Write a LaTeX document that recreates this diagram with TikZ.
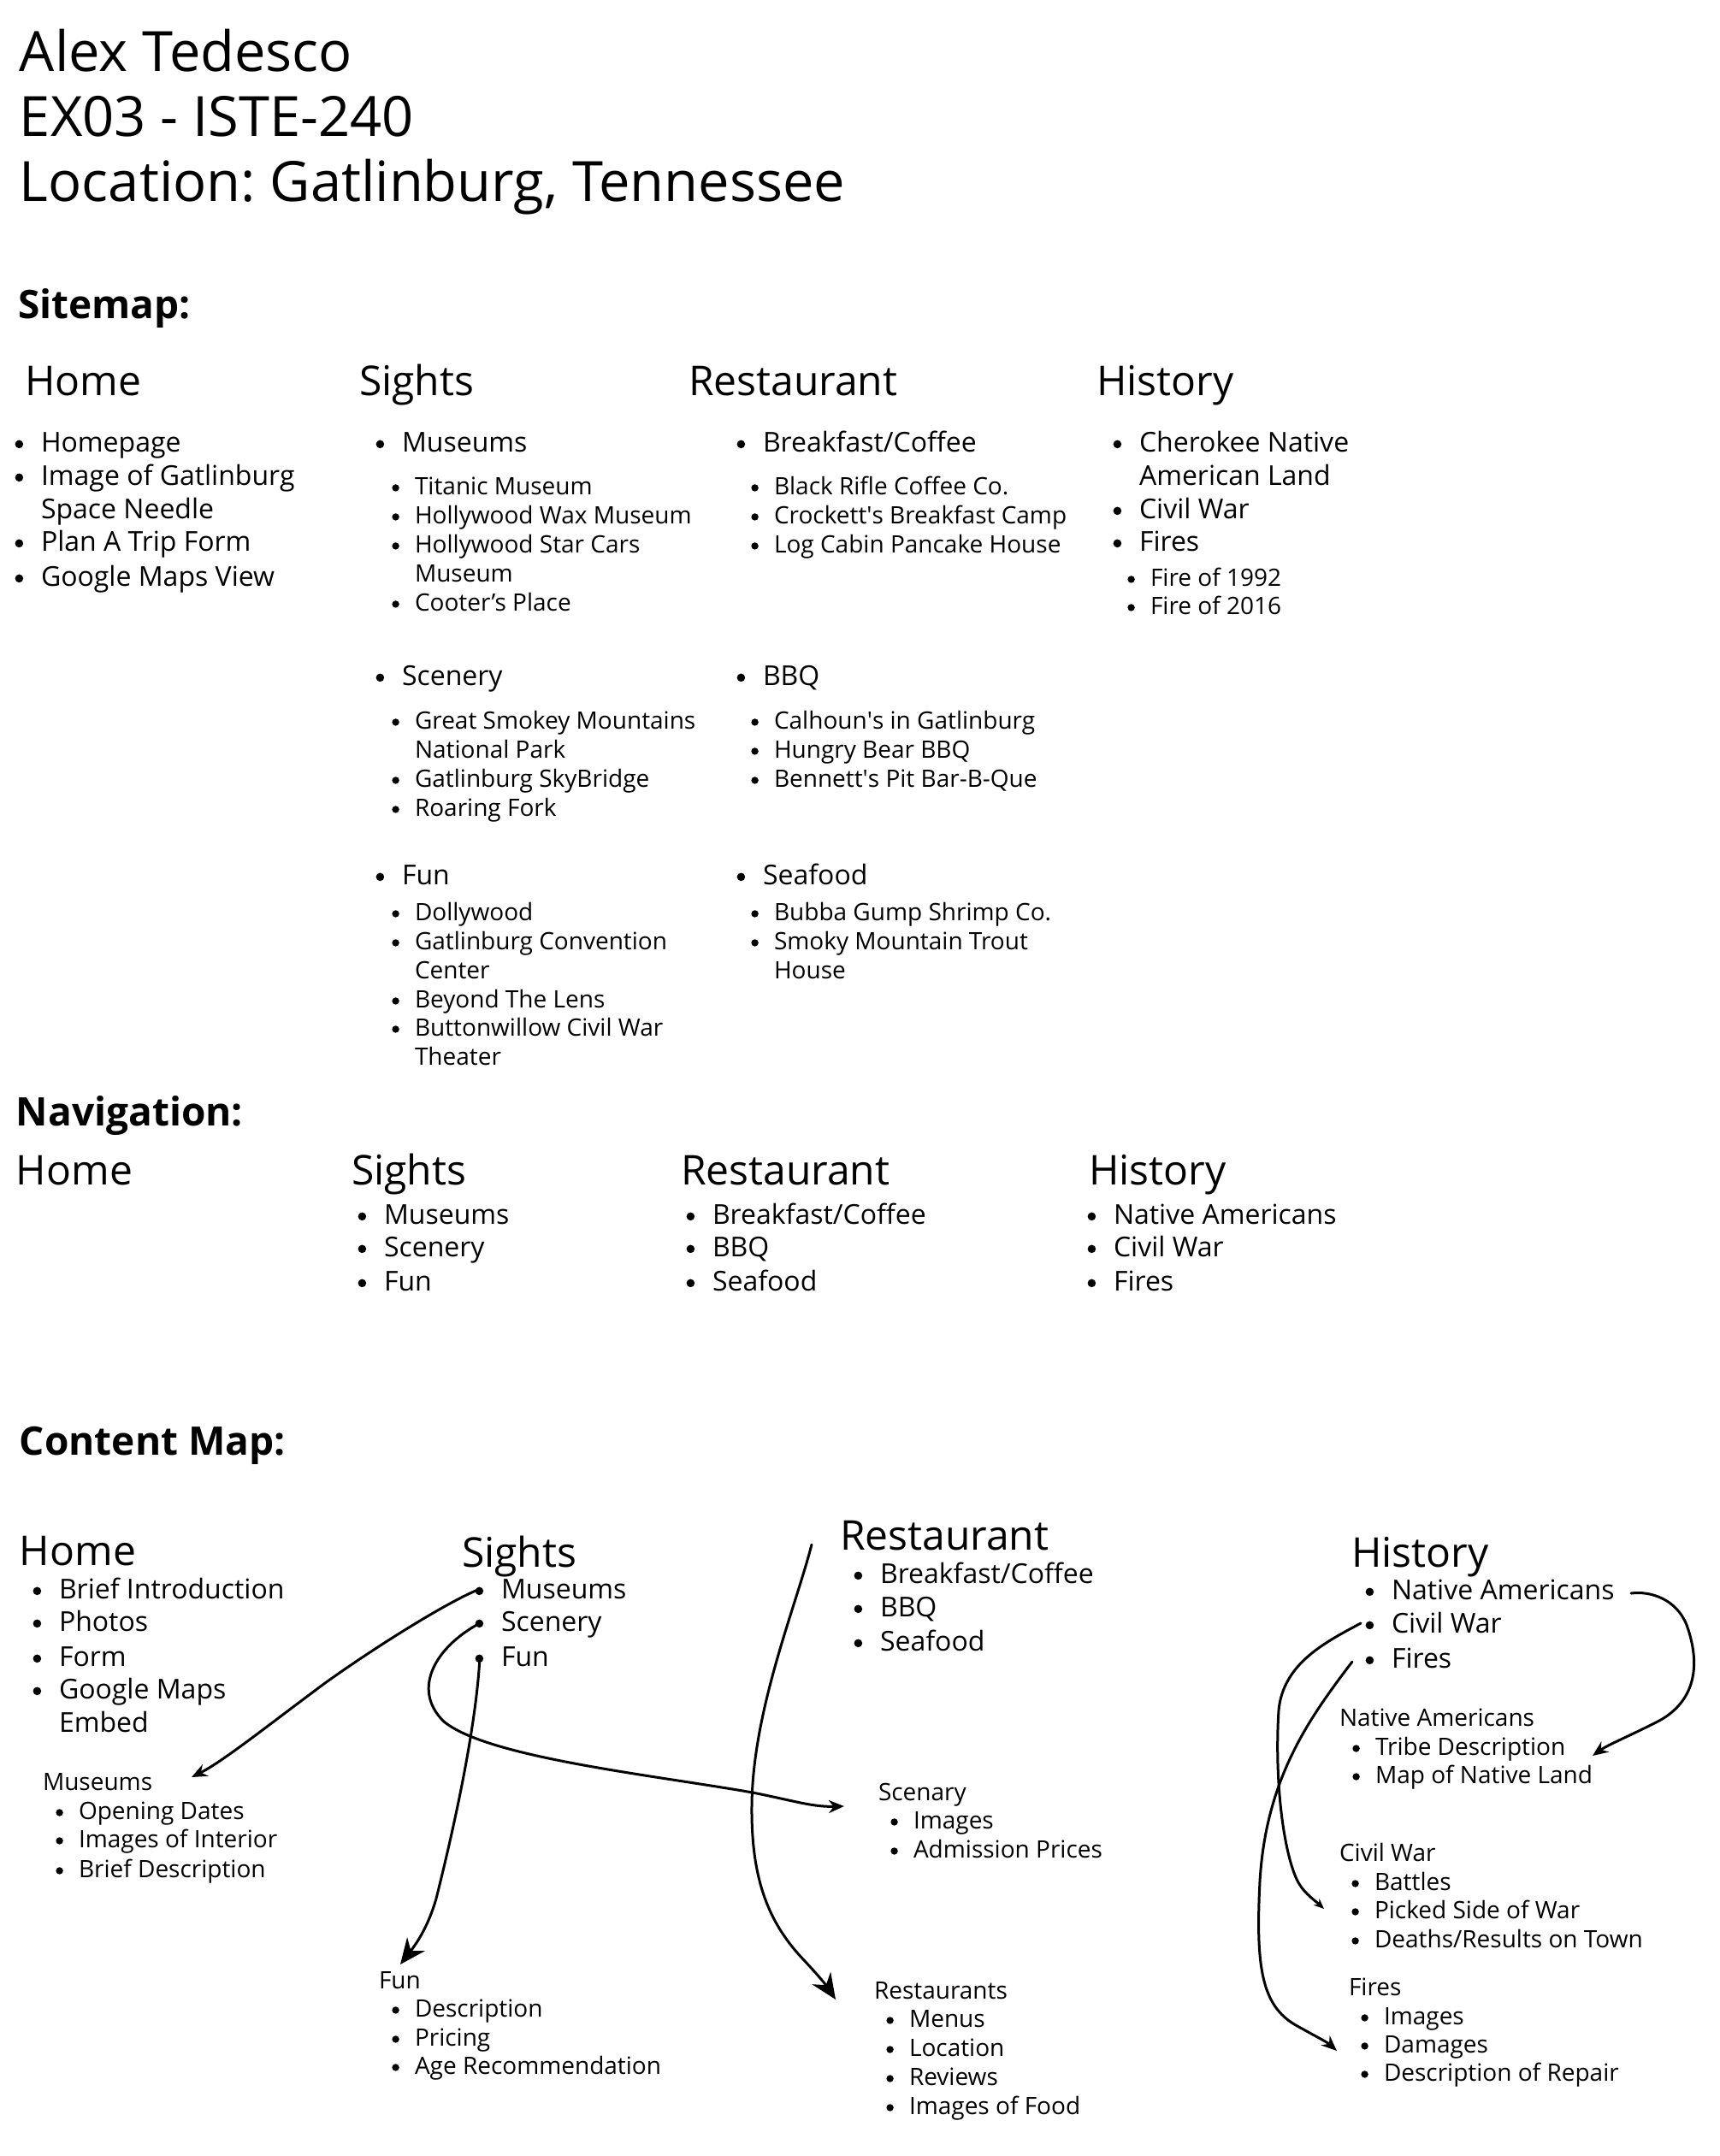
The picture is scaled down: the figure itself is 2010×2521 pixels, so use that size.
\documentclass[tikz,border=0pt]{standalone}
\usepackage{fontspec}
\setmainfont{Open Sans}
\usetikzlibrary{arrows.meta}
\frenchspacing
\newcommand\bu{\llap{\tikz[baseline=0pt]\fill (0pt,0.27em) circle[radius=0.15em];\hspace{0.65em}}}
\newcommand\ap{\textquotesingle}
\newcommand\li[5]{\node[#4] (#1) at (#2,#3) {#5};}
\begin{document}
\begin{tikzpicture}[x=1pt,y=-1pt,
  every node/.style={inner sep=0pt, outer sep=0pt, anchor=base west},
  ttl/.style={font=\fontsize{65}{78}\selectfont},
  sec/.style={font=\bfseries\fontsize{46}{55}\selectfont},
  hd/.style={font=\fontsize{48}{58}\selectfont},
  bg/.style={font=\fontsize{32}{39}\selectfont},
  sm/.style={font=\fontsize{28}{34}\selectfont},
  arr/.style={line width=3pt, line cap=round, -{Stealth[length=18pt,width=15pt]}},
  arrL/.style={line width=3pt, line cap=round, -{Stealth[length=30pt,width=26pt]}},
  arrT/.style={line width=3pt, line cap=round, -{Stealth[length=12pt,width=10pt]}}]
\fill[white] (0,0) rectangle (2010,2521);
\useasboundingbox (0,0) rectangle (2010,2521);

% title
\li{t1}{23}{84}{ttl}{Alex Tedesco}
\li{t2}{23}{159}{ttl}{EX03 - ISTE-240}
\li{t3}{23}{235}{ttl}{Location: Gatlinburg, Tennessee}

% ---------------- Sitemap
\li{secS}{21}{372}{sec}{Sitemap:}
\li{smHome}{29}{462}{hd}{Home}
\li{smSig}{420}{462}{hd}{Sights}
\li{smRes}{805}{462}{hd}{Restaurant}
\li{smHis}{1282}{462}{hd}{History}

\li{smH1}{48}{528}{bg}{\bu Homepage}
\li{smH2}{48}{567}{bg}{\bu Image of Gatlinburg}
\li{smH2b}{48}{606}{bg}{Space Needle}
\li{smH3}{48}{644}{bg}{\bu Plan A Trip Form}
\li{smH4}{48}{685}{bg}{\bu Google Maps View}

\li{smS1}{470}{528}{bg}{\bu Museums}
\li{smS1a}{485}{578}{sm}{\bu Titanic Museum}
\li{smS1b}{485}{612}{sm}{\bu Hollywood Wax Museum}
\li{smS1c}{485}{646}{sm}{\bu Hollywood Star Cars}
\li{smS1cb}{485}{680}{sm}{Museum}
\li{smS1d}{485}{714}{sm}{\bu Cooter’s Place}
\li{smS2}{470}{801}{bg}{\bu Scenery}
\li{smS2a}{485}{852}{sm}{\bu Great Smokey Mountains}
\li{smS2ab}{485}{886}{sm}{National Park}
\li{smS2b}{485}{920}{sm}{\bu Gatlinburg SkyBridge}
\li{smS2c}{485}{954}{sm}{\bu Roaring Fork}
\li{smS3}{470}{1034}{bg}{\bu Fun}
\li{smS3a}{485}{1076}{sm}{\bu Dollywood}
\li{smS3b}{485}{1110}{sm}{\bu Gatlinburg Convention}
\li{smS3bb}{485}{1144}{sm}{Center}
\li{smS3c}{485}{1178}{sm}{\bu Beyond The Lens}
\li{smS3d}{485}{1211}{sm}{\bu Buttonwillow Civil War}
\li{smS3db}{485}{1245}{sm}{Theater}

\li{smR1}{892}{528}{bg}{\bu Breakfast/Coffee}
\li{smR1a}{905}{578}{sm}{\bu Black Rifle Coffee Co.}
\li{smR1b}{905}{612}{sm}{\bu Crockett\ap s Breakfast Camp}
\li{smR1c}{905}{646}{sm}{\bu Log Cabin Pancake House}
\li{smR2}{892}{801}{bg}{\bu BBQ}
\li{smR2a}{905}{852}{sm}{\bu Calhoun\ap s in Gatlinburg}
\li{smR2b}{905}{886}{sm}{\bu Hungry Bear BBQ}
\li{smR2c}{905}{920}{sm}{\bu Bennett\ap s Pit Bar-B-Que}
\li{smR3}{892}{1034}{bg}{\bu Seafood}
\li{smR3a}{905}{1076}{sm}{\bu Bubba Gump Shrimp Co.}
\li{smR3b}{905}{1110}{sm}{\bu Smoky Mountain Trout}
\li{smR3bb}{905}{1144}{sm}{House}

\li{smY1}{1332}{528}{bg}{\bu Cherokee Native}
\li{smY1b}{1332}{567}{bg}{American Land}
\li{smY2}{1332}{606}{bg}{\bu Civil War}
\li{smY3}{1332}{644}{bg}{\bu Fires}
\li{smY3a}{1345}{685}{sm}{\bu Fire of 1992}
\li{smY3b}{1345}{718}{sm}{\bu Fire of 2016}

% ---------------- Navigation
\li{secN}{19}{1316}{sec}{Navigation:}
\li{nvHome}{19}{1385}{hd}{Home}
\li{nvSig}{411}{1385}{hd}{Sights}
\li{nvRes}{796}{1385}{hd}{Restaurant}
\li{nvHis}{1273}{1385}{hd}{History}
\li{nvS1}{449}{1431}{bg}{\bu Museums}
\li{nvS2}{449}{1469}{bg}{\bu Scenery}
\li{nvS3}{449}{1509}{bg}{\bu Fun}
\li{nvR1}{833}{1431}{bg}{\bu Breakfast/Coffee}
\li{nvR2}{833}{1469}{bg}{\bu BBQ}
\li{nvR3}{833}{1509}{bg}{\bu Seafood}
\li{nvY1}{1302}{1431}{bg}{\bu Native Americans}
\li{nvY2}{1302}{1469}{bg}{\bu Civil War}
\li{nvY3}{1302}{1509}{bg}{\bu Fires}

% ---------------- Content map
\li{secC}{23}{1701}{sec}{Content Map:}
\li{cmHome}{23}{1830}{hd}{Home}
\li{cmSig}{540}{1832}{hd}{Sights}
\li{cmRes}{982}{1812}{hd}{Restaurant}
\li{cmHis}{1580}{1832}{hd}{History}

\li{cmH1}{69}{1869}{bg}{\bu Brief Introduction}
\li{cmH2}{69}{1907}{bg}{\bu Photos}
\li{cmH3}{69}{1948}{bg}{\bu Form}
\li{cmH4}{69}{1986}{bg}{\bu Google Maps}
\li{cmH4b}{69}{2025}{bg}{Embed}

\li{cmSMus}{586}{1869}{bg}{\bu Museums}
\li{cmSSce}{586}{1907}{bg}{\bu Scenery}
\li{cmSFun}{586}{1948}{bg}{\bu Fun}

\li{cmR1}{1029}{1851}{bg}{\bu Breakfast/Coffee}
\li{cmR2}{1029}{1890}{bg}{\bu BBQ}
\li{cmR3}{1029}{1930}{bg}{\bu Seafood}

\li{cmHNat}{1627}{1870}{bg}{\bu Native Americans}
\li{cmHCiv}{1627}{1909}{bg}{\bu Civil War}
\li{cmHFir}{1627}{1950}{bg}{\bu Fires}

% detail blocks
\li{mbMus}{50}{2093}{sm}{Museums}
\li{mbMus1}{92}{2127}{sm}{\bu Opening Dates}
\li{mbMus2}{92}{2160}{sm}{\bu Images of Interior}
\li{mbMus3}{92}{2195}{sm}{\bu Brief Description}

\li{mbFun}{443}{2325}{sm}{Fun}
\li{mbFun1}{485}{2358}{sm}{\bu Description}
\li{mbFun2}{485}{2392}{sm}{\bu Pricing}
\li{mbFun3}{485}{2425}{sm}{\bu Age Recommendation}

\li{mbSce}{1027}{2105}{sm}{Scenary}
\li{mbSce1}{1068}{2138}{sm}{\bu Images}
\li{mbSce2}{1068}{2172}{sm}{\bu Admission Prices}

\li{mbRes}{1022}{2337}{sm}{Restaurants}
\li{mbRes1}{1063}{2370}{sm}{\bu Menus}
\li{mbRes2}{1063}{2404}{sm}{\bu Location}
\li{mbRes3}{1063}{2438}{sm}{\bu Reviews}
\li{mbRes4}{1063}{2472}{sm}{\bu Images of Food}

\li{mbNat}{1566}{2018}{sm}{Native Americans}
\li{mbNat1}{1608}{2052}{sm}{\bu Tribe Description}
\li{mbNat2}{1608}{2085}{sm}{\bu Map of Native Land}

\li{mbCiv}{1566}{2176}{sm}{Civil War}
\li{mbCiv1}{1607}{2210}{sm}{\bu Battles}
\li{mbCiv2}{1607}{2243}{sm}{\bu Picked Side of War}
\li{mbCiv3}{1607}{2277}{sm}{\bu Deaths/Results on Town}

\li{mbFir}{1577}{2333}{sm}{Fires}
\li{mbFir1}{1618}{2367}{sm}{\bu Images}
\li{mbFir2}{1618}{2400}{sm}{\bu Damages}
\li{mbFir3}{1618}{2433}{sm}{\bu Description of Repair}

% connector ends
\coordinate (a1s) at ([xshift=-25pt,yshift=11pt]cmSMus.base west);
\coordinate (a1e) at ([xshift=174pt,yshift=15pt]mbMus.base west);
\coordinate (a2s) at ([xshift=-25pt,yshift=9pt]cmSSce.base west);
\coordinate (a2e) at ([xshift=-40pt,yshift=-7pt]mbSce.base west);
\coordinate (a3s) at ([xshift=-25pt,yshift=10pt]cmSFun.base west);
\coordinate (a3e) at ([xshift=25pt,yshift=28pt]mbFun.base west);
\coordinate (a4s) at ([xshift=-33pt,yshift=6pt]cmRes.base west);
\coordinate (a4e) at ([xshift=-45pt,yshift=-1pt]mbRes.base west);
\coordinate (a5s) at ([xshift=280pt,yshift=7pt]cmHNat.base west);
\coordinate (a5e) at ([xshift=296pt,yshift=-35pt]mbNat.base west);
\coordinate (a6s) at ([xshift=-36pt,yshift=11pt]cmHCiv.base west);
\coordinate (a6e) at ([xshift=-18pt,yshift=-56pt]mbCiv.base west);
\coordinate (a7s) at ([xshift=-46pt,yshift=7pt]cmHFir.base west);
\coordinate (a7e) at ([xshift=-14pt,yshift=-65pt]mbFir.base west);

\draw[arr] (a1s) .. controls (525,1872) and (440,1925) .. (380,1968)
  .. controls (310,2020) and (260,2060) .. (a1e);
\draw[arr] (a2s) .. controls (510,1925) and (480,1975) .. (519,2013)
  .. controls (570,2055) and (760,2075) .. (880,2096)
  .. controls (930,2106) and (950,2113) .. (a2e);
\draw[arrL] (a3s) .. controls (556,2030) and (525,2160) .. (510,2220)
  .. controls (500,2255) and (485,2275) .. (a3e);
\draw[arrL] (a4s) .. controls (930,1880) and (880,2000) .. (879,2111)
  .. controls (878,2200) and (900,2250) .. (940,2292)
  .. controls (955,2308) and (965,2320) .. (a4e);
\draw[arr] (a5s) .. controls (1930,1860) and (1960,1870) .. (1972,1900)
  .. controls (1990,1950) and (1980,1990) .. (1940,2012)
  .. controls (1905,2030) and (1880,2040) .. (a5e);
\draw[arrT] (a6s) .. controls (1550,1920) and (1500,1945) .. (1495,2000)
  .. controls (1490,2080) and (1500,2160) .. (1515,2195)
  .. controls (1522,2212) and (1535,2220) .. (a6e);
\draw[arr] (a7s) .. controls (1530,2010) and (1480,2080) .. (1473,2200)
  .. controls (1468,2300) and (1475,2345) .. (1515,2368)
  .. controls (1540,2382) and (1552,2388) .. (a7e);
\end{tikzpicture}
\end{document}
